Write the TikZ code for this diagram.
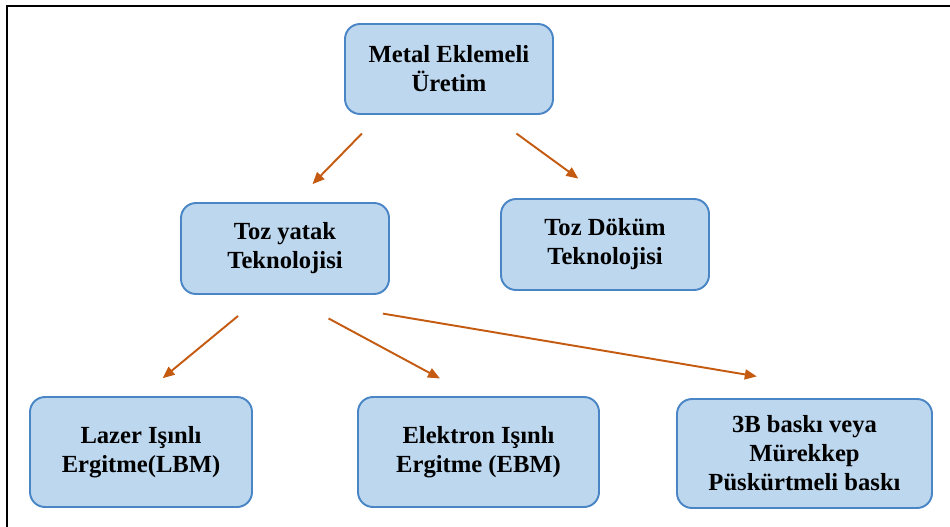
\documentclass[tikz,border=0pt]{standalone}
\usepackage{fontspec}
\setmainfont{Liberation Serif}
\usepackage{xcolor}
\usetikzlibrary{arrows.meta, positioning, calc}

\definecolor{boxfill}{HTML}{BDD7EE}
\definecolor{boxline}{HTML}{4A86C6}
\definecolor{arrcol}{HTML}{C55A11}

\begin{document}
\begin{tikzpicture}[
  every node/.style={font=\fontsize{14}{16.5}\selectfont\bfseries},
  box/.style={rectangle, rounded corners=0.3cm, draw=boxline, fill=boxfill,
              line width=1.1pt, align=center, inner sep=2pt},
  arr/.style={-{Triangle[length=0.24cm, width=0.2cm]}, arrcol, line width=1.1pt}
]
\useasboundingbox (0,0) rectangle (19,-10.54);
%% frame (top and left only)
\draw[line width=1.1pt] (0.14,-10.54) -- (0.14,-0.12) -- (19,-0.12);

%% level 0
\node[box, minimum width=4.16cm, minimum height=1.8cm] (met) at (8.98,-1.38)
  {Metal Eklemeli\\Üretim};
%% level 1
\node[box, minimum width=4.16cm, minimum height=1.82cm] (tyt) at (5.7,-4.97)
  {Toz yatak\\Teknolojisi};
\node[box, minimum width=4.16cm, minimum height=1.82cm] (tdk) at (12.1,-4.89)
  {Toz Döküm\\Teknolojisi};
%% level 2
\node[box, minimum width=4.44cm, minimum height=2.2cm] (lbm) at (2.82,-9.04)
  {Lazer Işınlı\\Ergitme(LBM)};
\node[box, minimum width=4.82cm, minimum height=2.2cm] (ebm) at (9.57,-9.04)
  {Elektron Işınlı\\Ergitme (EBM)};
\node[box, minimum width=5.1cm, minimum height=2.18cm] (bsk) at (16.09,-9.07)
  {3B baskı veya\\Mürekkep\\Püskürtmeli baskı};

%% arrows
\draw[arr, shorten <=0.52cm, shorten >=0.5cm]
  ([xshift=-1.38cm]met.south) -- ([xshift=0.2cm]tyt.north);
\draw[arr, shorten <=0.63cm, shorten >=0.66cm]
  ([xshift=0.84cm]met.south) -- (tdk.north);
\draw[arr, shorten <=0.66cm, shorten >=0.56cm]
  ([xshift=-0.43cm]tyt.south) -- (lbm.north);
\draw[arr, shorten <=0.99cm, shorten >=0.74cm]
  (tyt.south) -- ([xshift=-0.12cm]ebm.north);
\draw[arr, shorten <=2.25cm, shorten >=2.61cm]
  ([xshift=-0.26cm]tyt.south) -- ([xshift=1.62cm]bsk.north);
\end{tikzpicture}
\end{document}
